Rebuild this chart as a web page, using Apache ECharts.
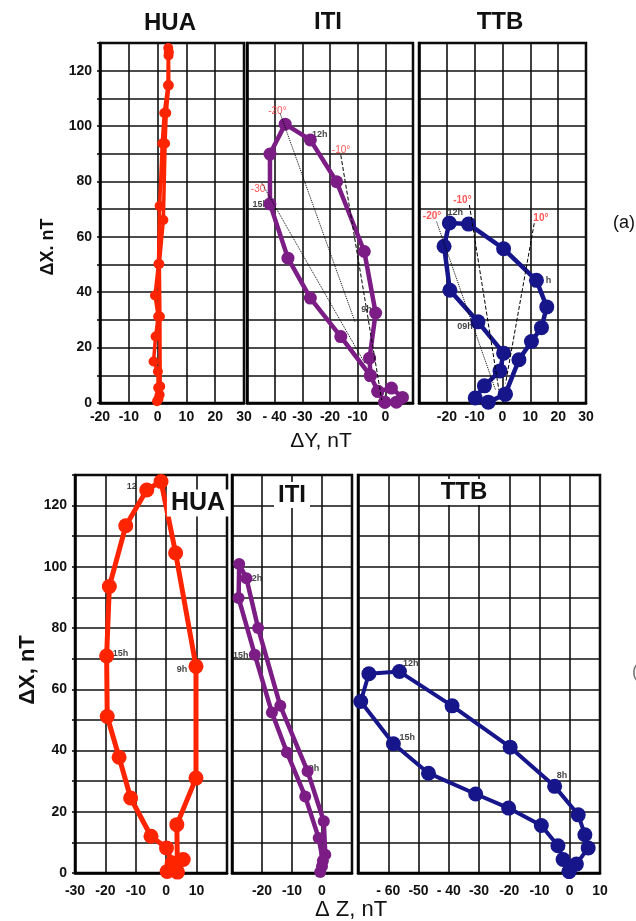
<!DOCTYPE html>
<html><head><meta charset="utf-8">
<script src="https://cdn.jsdelivr.net/npm/echarts@6/dist/echarts.min.js"></script>
<style>html,body{margin:0;padding:0;background:#fff}#c{width:636px;height:921px}</style>
</head><body><div id="c"></div>
<script>
// ---------- DATA ----------
const stations = ['HUA', 'ITI', 'TTB'];
const yTickValues = [0, 20, 40, 60, 80, 100, 120];

// Top panel: [ΔY, ΔX] (nT)
const huaYX = [[-0.2,0.6],[0.2,5.5],[0.1,11.4],[-1.4,15],[-0.7,24],[0.2,31.2],[-0.9,38.8],[0.3,50.2],[0.7,71.1],[1.6,93.7],[2.3,104.7],[3.6,114.7],[3.7,128.2],[3.9,126.7],[3.8,125.5],[3.9,114.7],[3.0,104.7],[2.6,93.7],[2.0,66.1],[0.6,50.2],[0.8,31.2],[0.9,6],[0.7,3],[0.3,1.5]];
const itiYX = [[-0.2,0.3],[4,0.3],[6.2,2],[2.2,5.4],[-2.7,4.2],[-5.4,9.9],[-5.7,16.2],[-3.5,32.5],[-7.6,54.7],[-17.6,79.9],[-27.1,95],[-36.2,100.7],[-41.7,89.9],[-41.7,71.9],[-35.2,52.3],[-27.1,37.9],[-16.1,24],[-5.4,9.9],[-2.7,4.2],[-0.2,0.3]];
const ttbYX = [[1,3.2],[5.9,15.6],[10.4,22.2],[14,27.2],[15.9,34.7],[12.2,44.3],[0.4,55.7],[-12.2,64.6],[-19.1,65],[-21,56.6],[-18.9,40.7],[-8.8,29.3],[0.4,18],[-0.9,11.6],[-6.5,6.2],[-9.8,1.8],[-5.1,0.3],[1,3.2]];

// Bottom panel: [ΔZ, ΔX] (nT)
const huaZX = [[0.3,0.5],[2,3.3],[5.6,4.4],[3.7,0.3],[3.5,15.8],[9.8,31],[9.8,67.5],[3.1,104.5],[-1.7,127.9],[-6.4,125.1],[-13.3,113.4],[-18.7,93.6],[-19.6,70.9],[-19.4,51.1],[-15.5,37.8],[-11.7,24.5],[-5,12],[0.1,8.2],[2,3.3]];
const itiZX = [[-0.6,0.3],[0,2.2],[1.1,6],[0.6,16.9],[-4.8,33.2],[-13.9,54.6],[-21.3,80],[-25.2,96.3],[-27.6,100.9],[-27.8,89.8],[-22.4,71.3],[-16.7,52.4],[-11.7,39.4],[-5.6,25],[-1.1,11.4],[0.3,4]];
const ttbZX = [[-0.2,0.5],[2.2,2.9],[6.1,8.2],[5,12.5],[2.8,19],[-5,28.3],[-19.7,41.1],[-38.9,54.6],[-56.3,65.8],[-66.4,65.1],[-69.1,56],[-58.3,42.2],[-46.7,32.6],[-31.1,25.8],[-20.2,21.2],[-9.4,15.5],[-3.9,8.9],[-2.2,4.4],[-0.2,0.5]];

// Angle guide lines (top panel), endpoints [ΔY, ΔX]
const itiGuideM20 = [[-38,104.5],[-11,29.4]];
const itiGuideM30 = [[-44.6,79.3],[-7.4,14.3]];
const itiGuideM10 = [[-16.1,89.5],[-1.3,1.1]];
const ttbGuideM20 = [[-23.7,65.5],[-2.5,4.7]];
const ttbGuideM10 = [[-11.9,71.5],[-1.3,4.7]];
const ttbGuideP10 = [[11.4,64.9],[1.1,7.1]];

// Angle labels [ΔY, ΔX, text]
const itiAngleLabels = [[-39,105.5,'-20°'],[-16,91.1,'-10°'],[-46,77.3,'-30']];
const ttbAngleLabels = [[-25.3,67.3,'-20°'],[-14.4,73.3,'-10°'],[13.8,66.7,'10°']];
// Hour labels
const itiTopHours = [[-23.7,97.1,'12h'],[-45.2,71.5,'15h'],[-6.8,33.6,'9h']];
const ttbTopHours = [[-17,68.7,'12h'],[16.5,44.4,'h'],[-13.5,27.5,'09h']];
const huaBotHours = [[-11.3,126.2,'12'],[-15,71.8,'15h'],[5.2,66.6,'9h']];
const itiBotHours = [[-22.5,96.3,'12h'],[-27.1,71.2,'15h'],[-2.7,34.2,'9h']];
const ttbBotHours = [[-52.6,68.3,'12h'],[-53.7,44.3,'15h'],[-2.6,31.8,'8h']];

// ---------- CHART ----------
const RED = '#ff2400', PURPLE = '#7b1d85', NAVY = '#16168a';
const FONT = 'Liberation Sans, Arial, sans-serif';

const grids = [
  {left:100, top:43, width:144, height:360},
  {left:247, top:43, width:166, height:360},
  {left:419, top:43, width:167, height:360},
  {left:75,  top:475, width:152, height:398},
  {left:232, top:475, width:120, height:398},
  {left:358, top:475, width:242, height:398}
].map(g => Object.assign({show:true, borderColor:'#000', borderWidth:2.5, backgroundColor:'transparent'}, g));

const xRanges = [[-20,30],[-50,10],[-30,30],[-30,20],[-30,10],[-70,10]];
const hideX = [[], [-50,10], [-30], [20], [-30,10], [-70]];
const renameX = {'1:-40':'- 40', '5:-60':'- 60', '5:-40':'- 40'};

const xAxes = xRanges.map((r, i) => ({
  type:'value', gridIndex:i, min:r[0], max:r[1], interval:10,
  axisLine:{show:true, onZero:false, lineStyle:{color:'#000', width:2.5}},
  axisTick:{show:false},
  splitLine:{show:true, lineStyle:{color:'#111', width:1.6}},
  axisLabel:{
    show:true, margin: i < 3 ? 7 : 11,
    fontSize:14, fontWeight:'bold', fontFamily:FONT, color:'#111',
    showMinLabel:true, showMaxLabel:true,
    formatter: v => hideX[i].includes(v) ? '' : (renameX[i+':'+v] || String(v))
  }
}));

const yAxes = grids.map((g, i) => ({
  type:'value', gridIndex:i, min:0, max:130, interval:10,
  axisLine:{show:true, onZero:false, lineStyle:{color:'#000', width:2.5}},
  axisTick:{show:(i===0||i===3), length:3, lineStyle:{color:'#000', width:1.5}},
  splitLine:{show:true, lineStyle:{color:'#111', width:1.6}},
  axisLabel:{
    show:(i===0||i===3), margin:8,
    fontSize:14, fontWeight:'bold', fontFamily:FONT, color:'#111',
    formatter: v => yTickValues.includes(v) ? String(v) : ''
  }
}));

function loop(data, idx, color, sym, lw) {
  return {type:'line', xAxisIndex:idx, yAxisIndex:idx, data:data, z:3, clip:false,
    symbol:'circle', symbolSize:sym, showSymbol:true,
    lineStyle:{color:color, width:lw}, itemStyle:{color:color}, emphasis:{disabled:true}, silent:true};
}
function guide(data, idx, type) {
  return {type:'line', xAxisIndex:idx, yAxisIndex:idx, data:data, z:4, symbol:'none',
    lineStyle:{color:'#000', width:1, type:type}, silent:true};
}
function labels(arr, idx, color, size, bold) {
  return {type:'scatter', xAxisIndex:idx, yAxisIndex:idx, z:1, symbolSize:0, silent:true, clip:false,
    data: arr.map(a => ({value:[a[0], a[1]], name:a[2]})),
    label:{show:true, position:'inside', formatter: p => p.name, color:color,
      fontSize:size, fontWeight: bold ? 'bold' : 'normal', fontFamily:FONT}};
}

const series = [
  labels(itiAngleLabels, 1, '#ff2a2a', 10, false),
  labels(ttbAngleLabels, 2, '#ff2a2a', 10, true),
  labels(itiTopHours, 1, '#111', 9, true),
  labels(ttbTopHours, 2, '#111', 9, true),
  labels(huaBotHours, 3, '#111', 9, true),
  labels(itiBotHours, 4, '#111', 9, true),
  labels(ttbBotHours, 5, '#111', 9, true),
  loop(huaYX, 0, RED, 10, 3.5),
  loop(itiYX, 1, PURPLE, 13, 4.5),
  loop(ttbYX, 2, NAVY, 15, 4.5),
  loop(huaZX, 3, RED, 15, 5),
  loop(itiZX, 4, PURPLE, 12, 4.5),
  loop(ttbZX, 5, NAVY, 15, 4),
  guide(itiGuideM20, 1, 'dotted'),
  guide(itiGuideM30, 1, 'dotted'),
  guide(itiGuideM10, 1, 'dashed'),
  guide(ttbGuideM20, 2, 'dotted'),
  guide(ttbGuideM10, 2, 'dashed'),
  guide(ttbGuideP10, 2, 'dashed')
];

function txt(text, x, y, font, extra) {
  return Object.assign({type:'text', x:x, y:y, z:10, silent:true,
    style:{text:text, font:font, fill:'#111', align:'center', verticalAlign:'middle'}}, extra || {});
}
const graphic = [
  txt(stations[0], 170, 23, 'bold 24px ' + FONT),
  txt(stations[1], 328, 22, 'bold 24px ' + FONT),
  txt(stations[2], 500, 22, 'bold 24px ' + FONT),
  {type:'text', x:198, y:503, z:10, silent:true, style:{text:stations[0], font:'bold 25px '+FONT, fill:'#111', align:'center', verticalAlign:'middle', backgroundColor:'#fff', padding:[1,4]}},
  {type:'text', x:292, y:495, z:10, silent:true, style:{text:stations[1], font:'bold 24px '+FONT, fill:'#111', align:'center', verticalAlign:'middle', backgroundColor:'#fff', padding:[1,4]}},
  {type:'text', x:464, y:492, z:10, silent:true, style:{text:stations[2], font:'bold 24px '+FONT, fill:'#111', align:'center', verticalAlign:'middle', backgroundColor:'#fff', padding:[1,6]}},
  txt('ΔY, nT', 321, 441, '21px ' + FONT),
  txt('Δ Z, nT', 351, 910, '22px ' + FONT),
  txt('ΔX. nT', 48, 247, 'bold 18px ' + FONT, {rotation:Math.PI/2}),
  txt('ΔX, nT', 28, 670, 'bold 22px ' + FONT, {rotation:Math.PI/2}),
  txt('(a)', 624, 223, '18px ' + FONT),
  {type:'text', x:635, y:672, z:10, silent:true, style:{text:'(', font:'18px '+FONT, fill:'#777', align:'center', verticalAlign:'middle'}}
];

const chart = echarts.init(document.getElementById('c'), null, {renderer:'canvas'});
chart.setOption({
  animation:false,
  backgroundColor:'#fff',
  grid:grids, xAxis:xAxes, yAxis:yAxes, series:series, graphic:graphic
});
</script></body></html>
